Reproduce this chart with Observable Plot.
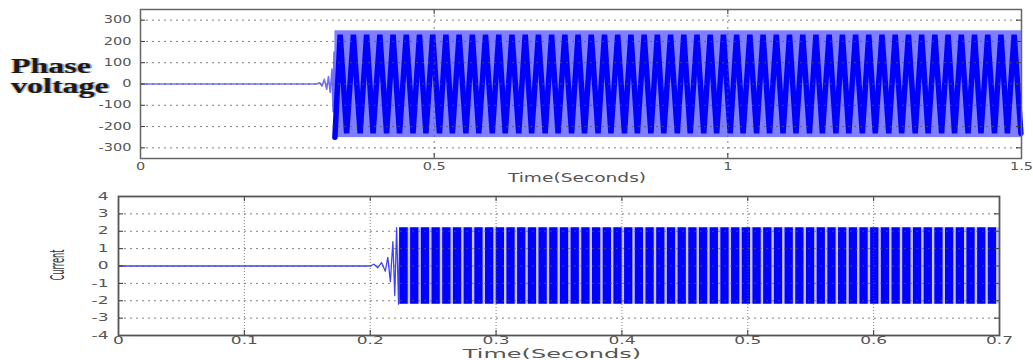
<!DOCTYPE html>
<html><head><meta charset="utf-8">
<script src="https://cdn.jsdelivr.net/npm/d3@7"></script>
<script src="https://cdn.jsdelivr.net/npm/@observablehq/plot@0.6"></script>
<style>
body{margin:0;background:#fff;}
#wrap{position:relative;width:1033px;height:360px;overflow:hidden;background:#fff;}
.lab{position:absolute;white-space:nowrap;}
#plab{left:11px;top:56px;font-family:"Liberation Serif",serif;font-weight:bold;font-size:20px;line-height:20px;color:#1a1a1a;
  transform-origin:0 0;transform:scaleX(1.6);text-shadow:-1px 0 rgba(230,140,0,.55),1px 0 rgba(0,90,255,.5);}
#clab{left:57px;top:265px;font-family:"DejaVu Sans",sans-serif;font-size:15px;color:#333;transform:translate(-50%,-50%) rotate(-90deg) scaleX(0.55) scaleY(1.3);}
.xl{font-family:"DejaVu Sans",sans-serif;color:#555;}
#xl1{left:577px;top:178px;font-size:12px;transform:translate(-50%,-50%) scaleX(1.55);}
#xl2{left:552px;top:354px;font-size:12px;line-height:11px;transform:translate(-50%,-50%) scaleX(2);}
</style></head><body><div id="wrap">
<div id="top" style="position:absolute;left:0;top:0"></div>
<div id="bot" style="position:absolute;left:0;top:185px"></div>
<div class="lab" id="plab">Phase<br>voltage</div>
<div class="lab" id="clab">Current</div>
<div class="lab xl" id="xl1">Time(Seconds)</div>
<div class="lab xl" id="xl2">Time(Seconds)</div>
</div>
<script>
// ---------- tick values ----------
const voltXTicks = [0, 0.5, 1, 1.5];
const voltYTicks = [-300, -200, -100, 0, 100, 200, 300];
const currXTicks = [0, 0.1, 0.2, 0.3, 0.4, 0.5, 0.6, 0.7];
const currYTicks = [-4, -3, -2, -1, 0, 1, 2, 3, 4];

// ---------- phase voltage (top) ----------
const voltStartT = [0, 0.1, 0.2, 0.3, 0.305, 0.309, 0.313, 0.317, 0.320, 0.323, 0.326, 0.328, 0.3295, 0.331];
const voltStartV = [0, 0, 0, 0, 6, -10, 22, -25, 35, -40, 70, -130, 150, -250];
const voltPeakT = [0.340, 0.3625, 0.385, 0.4075, 0.430, 0.4525, 0.475, 0.4975, 0.520, 0.5425, 0.565, 0.5875, 0.610,
  0.6325, 0.655, 0.6775, 0.700, 0.7225, 0.745, 0.7675, 0.790, 0.8125, 0.835, 0.8575, 0.880, 0.9025, 0.925, 0.9475,
  0.970, 0.9925, 1.015, 1.0375, 1.060, 1.0825, 1.105, 1.1275, 1.150, 1.1725, 1.195, 1.2175, 1.240, 1.2625, 1.285,
  1.3075, 1.330, 1.3525, 1.375, 1.3975, 1.420, 1.4425, 1.465, 1.4875];
const voltTroughT = [0.351, 0.374, 0.396, 0.419, 0.441, 0.464, 0.486, 0.509, 0.531, 0.554, 0.576, 0.599, 0.621,
  0.644, 0.666, 0.689, 0.711, 0.734, 0.756, 0.779, 0.801, 0.824, 0.846, 0.869, 0.891, 0.914, 0.936, 0.959,
  0.981, 1.004, 1.026, 1.049, 1.071, 1.094, 1.116, 1.139, 1.161, 1.184, 1.206, 1.229, 1.251, 1.274, 1.296,
  1.319, 1.341, 1.364, 1.386, 1.409, 1.431, 1.454, 1.476, 1.499];
const voltPeakV = 232;
const voltTroughV = -232;
const voltBand = {start: 0.331, end: 1.5, lo: -252, hi: 250};

// ---------- current (bottom) ----------
const currStartT = [0, 0.05, 0.1, 0.15, 0.2, 0.203, 0.206, 0.209, 0.212, 0.214, 0.216, 0.218, 0.2195, 0.221, 0.2225, 0.2235];
const currStartV = [0, 0, 0, 0, 0, 0.1, -0.1, 0.2, -0.3, 0.5, -0.9, 1.4, -1.7, 2.2, -2.2, 2.2];
const currStripeT = [0.2265, 0.235, 0.2435, 0.252, 0.2605, 0.269, 0.2775, 0.286, 0.2945, 0.303, 0.3115, 0.320,
  0.3285, 0.337, 0.3455, 0.354, 0.3625, 0.371, 0.3795, 0.388, 0.3965, 0.405, 0.4135, 0.422, 0.4305, 0.439,
  0.4475, 0.456, 0.4645, 0.473, 0.4815, 0.490, 0.4985, 0.507, 0.5155, 0.524, 0.5325, 0.541, 0.5495, 0.558,
  0.5665, 0.575, 0.5835, 0.592, 0.6005, 0.609, 0.6175, 0.626, 0.6345, 0.643, 0.6515, 0.660, 0.6685, 0.677,
  0.6855, 0.694];
const currAmp = 2.2;
const currBand = {start: 0.2235, end: 0.7, lo: -2.2, hi: 2.2};

// ---------- tables ----------
const voltStart = voltStartT.map((t, i) => ({t, v: voltStartV[i]}));
const voltZig = [{t: voltStartT[voltStartT.length - 1], v: voltStartV[voltStartV.length - 1]}];
voltPeakT.forEach((t, i) => { voltZig.push({t, v: voltPeakV}); voltZig.push({t: voltTroughT[i], v: voltTroughV}); });
const currStart = currStartT.map((t, i) => ({t, v: currStartV[i]}));

const fmt = d => String(d);
const axisStyle = {fontFamily: "DejaVu Sans, sans-serif", fontSize: "10px", color: "#555", background: "transparent", overflow: "visible"};

function edgeTicks(xT, yT, fw, fh) {
  const s = {stroke: "#333", strokeWidth: 1};
  return [
    Plot.tickX(xT, {x: d => d, insetBottom: fh - 5, ...s}),
    Plot.tickX(xT, {x: d => d, insetTop: fh - 5, ...s}),
    Plot.tickY(yT, {y: d => d, insetRight: fw - 5, ...s}),
    Plot.tickY(yT, {y: d => d, insetLeft: fw - 5, ...s})
  ];
}

// top chart
const T = {w: 1033, h: 185, ml: 140, mr: 12, mt: 9, mb: 27};
const topChart = Plot.plot({
  width: T.w, height: T.h, marginLeft: T.ml, marginRight: T.mr, marginTop: T.mt, marginBottom: T.mb,
  style: axisStyle,
  x: {domain: [0, 1.5], ticks: voltXTicks, tickFormat: fmt, tickSize: 0, tickPadding: 4, label: null},
  y: {domain: [-350, 350], ticks: voltYTicks, tickFormat: fmt, tickSize: 0, tickPadding: 9, label: null},
  marks: [
    Plot.rect([voltBand], {x1: "start", x2: "end", y1: "lo", y2: "hi", fill: "#8080ff"}),
    Plot.line(voltStart, {x: "t", y: "v", stroke: "#7070ff", strokeWidth: 1.6}),
    Plot.line(voltZig, {x: "t", y: "v", stroke: "#0000ff", strokeWidth: 5.5, strokeLinejoin: "bevel"}),
    Plot.ruleY(voltYTicks, {y: d => d, stroke: "#555", strokeOpacity: 0.75, strokeDasharray: "2,4"}),
    Plot.ruleX(voltXTicks, {x: d => d, stroke: "#555", strokeOpacity: 0.75, strokeDasharray: "2,4"}),
    ...edgeTicks(voltXTicks, voltYTicks, T.w - T.ml - T.mr, T.h - T.mt - T.mb),
    Plot.frame({stroke: "#666", strokeWidth: 1.5})
  ]
});

// bottom chart
const B = {w: 1033, h: 175, ml: 118, mr: 34, mt: 11, mb: 25};
const botChart = Plot.plot({
  width: B.w, height: B.h, marginLeft: B.ml, marginRight: B.mr, marginTop: B.mt, marginBottom: B.mb,
  style: axisStyle,
  x: {domain: [0, 0.7], ticks: currXTicks, tickFormat: fmt, tickSize: 0, tickPadding: 1, label: null},
  y: {domain: [-4, 4], ticks: currYTicks, tickFormat: fmt, tickSize: 0, tickPadding: 10, label: null},
  marks: [
    Plot.rect([currBand], {x1: "start", x2: "end", y1: "lo", y2: "hi", fill: "#c4c4ff"}),
    Plot.line(currStart, {x: "t", y: "v", stroke: "#4040ff", strokeWidth: 1.3}),
    Plot.ruleX(currStripeT, {x: d => d, y1: -currAmp, y2: currAmp, stroke: "#0000ff", strokeWidth: 8.3}),
    Plot.ruleY(currYTicks, {y: d => d, stroke: "#555", strokeOpacity: 0.75, strokeDasharray: "2,4"}),
    Plot.ruleX(currXTicks, {x: d => d, stroke: "#555", strokeOpacity: 0.75, strokeDasharray: "1,2"}),
    ...edgeTicks(currXTicks, currYTicks, B.w - B.ml - B.mr, B.h - B.mt - B.mb),
    Plot.frame({stroke: "#555", strokeWidth: 1.8})
  ]
});

document.getElementById("top").append(topChart);
document.getElementById("bot").append(botChart);

// horizontally stretch tick labels like the reference
function stretch(svg, k) {
  svg.querySelectorAll("text").forEach(t => {
    const L = t.getComputedTextLength();
    if (L > 0) { t.setAttribute("textLength", L * k); t.setAttribute("lengthAdjust", "spacingAndGlyphs"); }
  });
}
stretch(topChart, 1.45);
stretch(botChart, 1.7);
</script>
</body></html>
